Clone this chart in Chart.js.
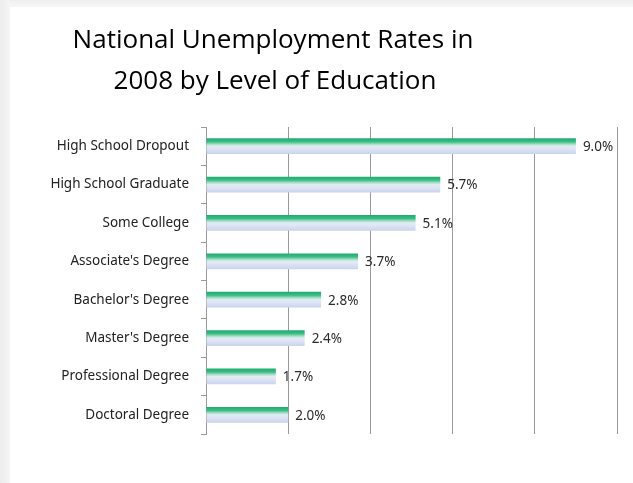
<!DOCTYPE html>
<html>
<head>
<meta charset="utf-8">
<script src="https://cdn.jsdelivr.net/npm/chart.js@4"></script>
<style>
html,body{margin:0;padding:0;background:#fff;}
#wrap{width:633px;height:483px;position:relative;}
</style>
</head>
<body>
<div id="wrap"><canvas id="c" width="633" height="483"></canvas></div>
<script>
const titleLines = ["National Unemployment Rates in", "2008 by Level of Education"];
const categories = ["High School Dropout","High School Graduate","Some College","Associate's Degree","Bachelor's Degree","Master's Degree","Professional Degree","Doctoral Degree"];
const rates = [9.0, 5.7, 5.1, 3.7, 2.8, 2.4, 1.7, 2.0];
const xMin = 0, xMax = 10, xStep = 2;

const framePlugin = {
  id: 'frame',
  beforeDraw(chart) {
    const ctx = chart.ctx;
    ctx.save();
    ctx.fillStyle = '#ffffff';
    ctx.fillRect(0, 0, chart.width, chart.height);
    let g = ctx.createLinearGradient(0, 0, 10, 0);
    g.addColorStop(0, '#ececec'); g.addColorStop(1, '#f5f5f5');
    ctx.fillStyle = g;
    ctx.fillRect(0, 0, 10, chart.height);
    g = ctx.createLinearGradient(0, 0, 0, 7);
    g.addColorStop(0, '#efefef'); g.addColorStop(1, '#f7f7f7');
    ctx.fillStyle = g;
    ctx.fillRect(10, 0, chart.width - 10, 7);
    ctx.restore();
  },
  afterDraw(chart) {
    const ctx = chart.ctx;
    ctx.save();
    ctx.fillStyle = '#000000';
    ctx.textAlign = 'center';
    ctx.textBaseline = 'alphabetic';
    ctx.font = '28px "Open Sans"';
    const w = ctx.measureText(titleLines[0]).width;
    const size = 28 * 401 / w;
    ctx.font = size.toFixed(2) + 'px "Open Sans"';
    ctx.fillText(titleLines[0], 273, 48);
    ctx.fillText(titleLines[1], 275, 89);
    ctx.restore();
  }
};

function barGradient(ctx, top, bot) {
  const g = ctx.createLinearGradient(0, top, 0, bot);
  g.addColorStop(0, '#1fab70');
  g.addColorStop(0.22, '#3abd85');
  g.addColorStop(0.38, '#a6dec8');
  g.addColorStop(0.5, '#e2ecf2');
  g.addColorStop(0.7, '#dde3f4');
  g.addColorStop(1, '#cad3ee');
  return g;
}

const gradientPlugin = {
  id: 'grad',
  beforeDatasetsDraw(chart) {
    const ctx = chart.ctx;
    chart.getDatasetMeta(0).data.forEach(el => {
      const top = el.y - el.height / 2, bot = el.y + el.height / 2;
      el.options = Object.assign({}, el.options, { backgroundColor: barGradient(ctx, top, bot) });
    });
  },
  afterDatasetsDraw(chart) {
    const ctx = chart.ctx;
    ctx.save();
    ctx.fillStyle = '#2b2b2b';
    ctx.font = '13.5px "Noto Sans"';
    ctx.textAlign = 'left';
    ctx.textBaseline = 'middle';
    chart.getDatasetMeta(0).data.forEach((el, i) => {
      ctx.fillText(rates[i].toFixed(1) + '%', el.x + 7, el.y + 1);
    });
    ctx.restore();
  }
};

new Chart(document.getElementById('c'), {
  type: 'bar',
  data: {
    labels: categories,
    datasets: [{
      data: rates,
      backgroundColor: (c) => '#9ddcc0',
      borderWidth: 0,
      categoryPercentage: 1.0,
      barPercentage: 0.41
    }]
  },
  options: {
    indexAxis: 'y',
    responsive: false,
    animation: false,
    events: [],
    layout: { padding: { top: 127, bottom: 49, right: 16, left: 0 } },
    plugins: { legend: { display: false }, title: { display: false }, tooltip: { enabled: false } },
    scales: {
      x: {
        min: xMin, max: xMax,
        ticks: { display: false, stepSize: xStep },
        grid: { color: ctx => ctx.tick && ctx.tick.value === 0 ? 'rgba(0,0,0,0)' : '#9a9a9a', drawTicks: false, lineWidth: 1 },
        border: { display: false },
        afterFit(s) { s.height = 0; }
      },
      y: {
        ticks: { color: '#222222', font: { family: '"Noto Sans"', size: 13.5 }, padding: 12 },
        grid: { drawOnChartArea: false, drawTicks: true, tickLength: 5, color: '#9a9a9a', offset: true },
        border: { display: true, color: '#9a9a9a', width: 1 },
        afterFit(s) { s.width = 206; }
      }
    }
  },
  plugins: [framePlugin, gradientPlugin]
});
</script>
</body>
</html>
